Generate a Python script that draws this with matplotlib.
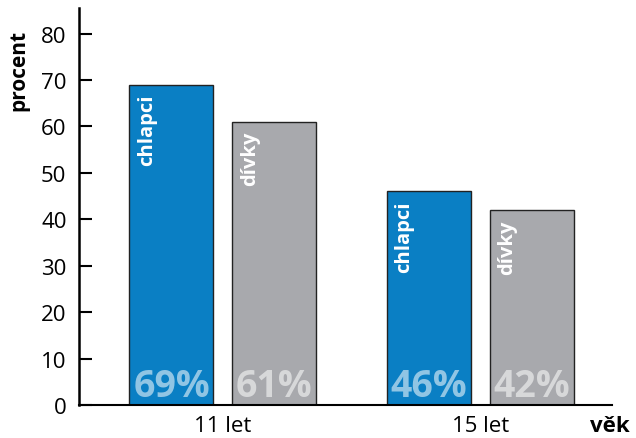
import matplotlib
matplotlib.use("Agg")
import matplotlib.pyplot as plt
import numpy as np

# ---------------------- Data ---------------------- #
groups = ['11 let', '15 let']
boys = [69, 46]
girls = [61, 42]
series_names = ['chlapci', 'dívky']
yticks = [0, 10, 20, 30, 40, 50, 60, 70, 80]

blue = '#0A7FC4'
gray = '#A8A9AD'

plt.rcParams['font.family'] = ['Open Sans', 'DejaVu Sans']

# ---------------------- Plot ---------------------- #
fig = plt.figure(figsize=(6.36, 4.39), dpi=100)
ax = fig.add_axes([79 / 636, 1 - 406 / 439, (612 - 79) / 636, (406 - 9) / 439])

x = np.arange(len(groups))
w = 0.326
off = 0.2

for vals, name, col, sign in [(boys, series_names[0], blue, -1), (girls, series_names[1], gray, 1)]:
    pos = x + sign * off
    ax.bar(pos, vals, width=w, color=col, edgecolor='#222222', linewidth=1.0)
    for p, v in zip(pos, vals):
        ax.text(p - 0.095, v - 2.0, name, rotation=90, ha='center', va='top',
                color='white', fontsize=14.5, fontweight='bold')
        ax.text(p, 1.9, f'{v}%', ha='center', va='baseline', color='white',
                alpha=0.55, fontsize=27, fontweight='bold')

ax.set_xlim(-0.559, 1.511)
ax.set_ylim(0, 85.5)
ax.set_yticks(yticks)
ax.set_xticks(x)
ax.set_xticklabels(groups)
ax.tick_params(axis='y', direction='in', length=9, width=1.5, labelsize=16, pad=9)
ax.tick_params(axis='x', length=0, labelsize=16, pad=7)

for s in ['top', 'right']:
    ax.spines[s].set_visible(False)
ax.spines['left'].set_linewidth(1.8)
ax.spines['bottom'].set_linewidth(1.5)

fig.text(19 / 636, 1 - 70 / 439, 'procent', rotation=90, ha='center', va='center',
         fontsize=15, fontweight='bold')
fig.text(590 / 636, 1 - 437 / 439, 'věk', ha='left', va='bottom', fontsize=16, fontweight='bold')

fig.savefig('out.png', dpi=100)
